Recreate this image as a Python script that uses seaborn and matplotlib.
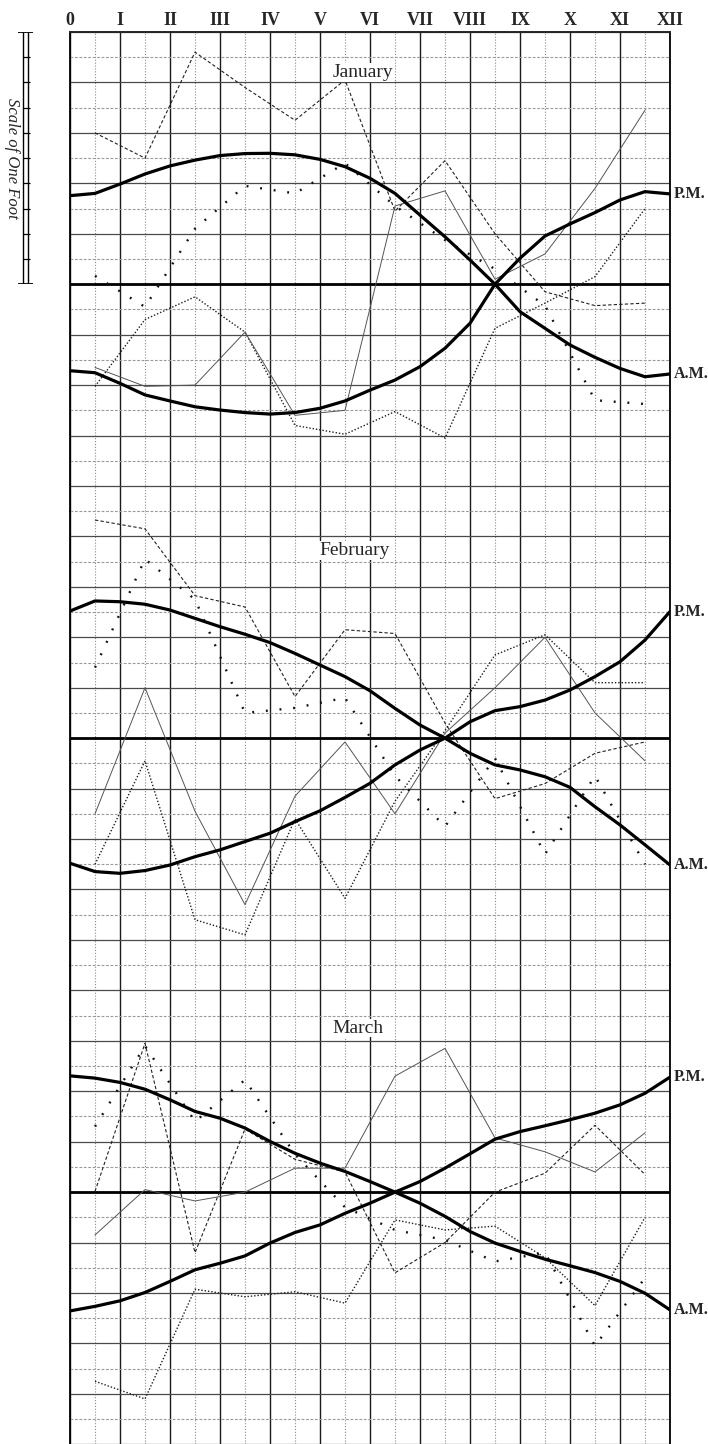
import numpy as np
import pandas as pd
import matplotlib
matplotlib.use("Agg")
import matplotlib.pyplot as plt
import seaborn as sns

# Hour labels along the top
hour_labels = ["0", "I", "II", "III", "IV", "V", "VI", "VII", "VIII", "IX", "X", "XI", "XII"]

# Smooth curves are read every half hour, observations at the half hours
curve_hours = [0, 0.5, 1, 1.5, 2, 2.5, 3, 3.5, 4, 4.5, 5, 5.5, 6,
               6.5, 7, 7.5, 8, 8.5, 9, 9.5, 10, 10.5, 11, 11.5, 12]
obs_hours = [0.5, 1.5, 2.5, 3.5, 4.5, 5.5, 6.5, 7.5, 8.5, 9.5, 10.5, 11.5]

# January (tenths of a foot above / below the mean line)
jan_am = [3.51, 3.6, 3.97, 4.37, 4.69, 4.92, 5.1, 5.18, 5.19, 5.13, 4.95, 4.66, 4.2,
          3.6, 2.74, 1.88, 0.96, 0.0, -1.09, -1.75, -2.41, -2.9, -3.34, -3.67, -3.56]
jan_pm = [-3.43, -3.51, -3.93, -4.39, -4.63, -4.86, -4.99, -5.09, -5.15, -5.09, -4.92, -4.63, -4.2,
          -3.8, -3.27, -2.54, -1.55, 0.0, 1.03, 1.91, 2.39, 2.84, 3.34, 3.67, 3.58]
jan_dash = [6.0, 5.0, 9.2, 7.8, 6.5, 8.1, 2.9, 4.9, 2.0, -0.3, -0.85, -0.75]
jan_fine = [-4.05, -1.4, -0.5, -1.9, -5.6, -5.95, -5.05, -6.1, -1.75, -0.75, 0.3, 3.0]
jan_thin = [-3.3, -4.05, -4.0, -1.9, -5.2, -5.0, 3.1, 3.7, 0.2, 1.2, 3.8, 6.9]
jan_loose = [0.33, -0.9, 2.2, 3.9, 3.6, 4.8, 3.1, 1.75, 0.6, -0.85, -4.6, -4.75]

# February
feb_am = [5.04, 5.44, 5.41, 5.31, 5.08, 4.75, 4.42, 4.12, 3.79, 3.36, 2.9, 2.44, 1.88,
          1.18, 0.52, 0.0, -0.6, -1.06, -1.26, -1.53, -1.95, -2.72, -3.44, -4.23, -5.03]
feb_pm = [-4.96, -5.29, -5.36, -5.25, -5.03, -4.7, -4.43, -4.1, -3.77, -3.31, -2.88, -2.35, -1.79,
          -1.06, -0.47, 0.0, 0.65, 1.09, 1.25, 1.51, 1.91, 2.44, 3.03, 3.89, 5.02]
feb_dash = [8.65, 8.3, 5.65, 5.2, 1.65, 4.3, 4.15, 0.6, -2.4, -1.8, -0.6, -0.15]
feb_fine = [-5.0, -0.9, -7.2, -7.8, -3.2, -6.35, -2.5, 0.3, 3.3, 4.1, 2.2, 2.2]
feb_thin = [-3.0, 2.0, -2.9, -6.6, -2.3, -0.15, -3.0, 0.2, 2.0, 4.0, 1.0, -0.9]
feb_loose = [2.8, 7.1, 5.5, 1.0, 1.2, 1.6, -1.5, -3.5, -0.8, -4.6, -1.5, -5.0]

# March
mar_am = [4.61, 4.52, 4.35, 4.08, 3.66, 3.2, 2.93, 2.54, 2.01, 1.54, 1.15, 0.82, 0.42,
          0.0, -0.44, -0.96, -1.56, -2.02, -2.35, -2.66, -2.92, -3.19, -3.54, -4.01, -4.67]
mar_pm = [-4.71, -4.53, -4.31, -3.98, -3.54, -3.08, -2.82, -2.53, -2.02, -1.6, -1.3, -0.84, -0.44,
          0.0, 0.42, 0.95, 1.52, 2.1, 2.4, 2.63, 2.87, 3.13, 3.46, 3.92, 4.56]
mar_dash = [0.03, 5.9, -2.4, 2.5, 1.3, 0.8, -3.2, -2.0, 0.0, 0.75, 2.65, 0.7]
mar_fine = [-7.5, -8.2, -3.85, -4.15, -3.95, -4.4, -1.1, -1.5, -1.35, -2.6, -4.5, -1.0]
mar_thin = [-1.7, 0.1, -0.35, 0.0, 0.95, 0.95, 4.6, 5.7, 2.15, 1.6, 0.8, 2.35]
mar_loose = [2.6, 5.8, 2.8, 4.45, 1.5, -0.6, -1.5, -1.9, -2.75, -2.4, -6.1, -3.4]

month_names = ["January", "February", "March"]

SERIF = ["Liberation Serif", "DejaVu Serif"]

W, H = 708, 1444
TOP = 32.0          # pixel row of the top border
ROW = 25.22         # pixels per tenth of a foot
LEFT, RIGHT = 70.0, 670.0


def frac_y(px):
    return 1 - px / H


def draw_month(fig, row_top, row_bot, zero_row, name, am, pm, dash, fine, thin, loose,
               title_pos, first=False):
    y_top_px = TOP + row_top * ROW
    y_bot_px = TOP + row_bot * ROW
    ax = fig.add_axes([LEFT / W, frac_y(y_bot_px), (RIGHT - LEFT) / W, (y_bot_px - y_top_px) / H])
    hi = zero_row - row_top
    lo = zero_row - row_bot
    ax.set_xlim(0, 12)
    ax.set_ylim(lo, hi)

    # grid: solid at hours / even tenths, dotted in between
    ax.set_xticks(np.arange(0, 13, 1))
    ax.set_xticks(np.arange(0.5, 12, 1), minor=True)
    ax.set_yticks([v for v in range(lo, hi + 1) if v % 2 == 0])
    ax.set_yticks([v for v in range(lo, hi + 1) if v % 2 != 0], minor=True)
    ax.grid(which="major", axis="x", color="#1a1a1a", lw=1.0)
    ax.grid(which="minor", axis="x", color="#8a8a8a", lw=0.8, ls=(0, (1, 1.6)))
    ax.grid(which="major", axis="y", color="#4a4a4a", lw=0.9)
    ax.grid(which="minor", axis="y", color="#9a9a9a", lw=0.8, ls=(0, (2.5, 1.5)))
    ax.set_axisbelow(True)
    ax.tick_params(which="both", length=0, labelbottom=False, labelleft=False)

    for side in ["left", "right"]:
        ax.spines[side].set_color("black")
        ax.spines[side].set_linewidth(1.3)
    ax.spines["bottom"].set_visible(False)
    ax.spines["top"].set_visible(first)
    ax.spines["top"].set_linewidth(1.4)

    if first:
        ax.xaxis.set_ticks_position("top")
        ax.set_xticklabels(hour_labels, fontsize=13, family=SERIF, fontweight="bold")
        ax.tick_params(which="major", labeltop=True, pad=2)

    ax.axhline(0, color="black", lw=2.0, zorder=3)

    obs = pd.DataFrame({"hour": obs_hours, "dash": dash, "fine": fine, "thin": thin, "loose": loose})
    sns.lineplot(data=obs, x="hour", y="dash", ax=ax, color="#222222", lw=0.8,
                 ls=(0, (3, 2)), estimator=None, sort=False, zorder=4)
    sns.lineplot(data=obs, x="hour", y="fine", ax=ax, color="#1e1e1e", lw=1.0,
                 ls=(0, (1, 1.4)), estimator=None, sort=False, zorder=4)
    sns.lineplot(data=obs, x="hour", y="thin", ax=ax, color="#555555", lw=0.7,
                 estimator=None, sort=False, zorder=4)
    sns.lineplot(data=obs, x="hour", y="loose", ax=ax, color="#111111", lw=1.7,
                 ls=(0, (0.8, 5)), estimator=None, sort=False, zorder=4)

    curves = pd.DataFrame({"hour": curve_hours, "am": am, "pm": pm})
    sns.lineplot(data=curves, x="hour", y="am", ax=ax, color="black", lw=2.3,
                 estimator=None, sort=False, zorder=5)
    sns.lineplot(data=curves, x="hour", y="pm", ax=ax, color="black", lw=2.3,
                 estimator=None, sort=False, zorder=5)

    ax.text(12.08, pm[-1], "P.M.", fontsize=11.5, family=SERIF, fontweight="bold",
            va="center", ha="left", clip_on=False)
    ax.text(12.08, am[-1], "A.M.", fontsize=11.5, family=SERIF, fontweight="bold",
            va="center", ha="left", clip_on=False)
    ax.text(title_pos[0], title_pos[1], name, fontsize=14, family=SERIF,
            ha="center", va="center", zorder=6,
            bbox=dict(facecolor="white", edgecolor="none", pad=0.5))
    ax.set_xlabel("")
    ax.set_ylabel("")
    return ax


sns.set_style("white")
plt.rcParams["font.family"] = SERIF

fig = plt.figure(figsize=(W / 100, H / 100), dpi=100)
fig.patch.set_facecolor("white")

draw_month(fig, 0, 19, 10, month_names[0], jan_am, jan_pm, jan_dash, jan_fine, jan_thin,
           jan_loose, (5.85, 8.4), first=True)
draw_month(fig, 19, 37, 28, month_names[1], feb_am, feb_pm, feb_dash, feb_fine, feb_thin,
           feb_loose, (5.7, 7.45))
draw_month(fig, 37, 56, 46, month_names[2], mar_am, mar_pm, mar_dash, mar_fine, mar_thin,
           mar_loose, (5.75, 6.5))

# Scale of one foot, drawn beside January (one foot = ten divisions)
rax = fig.add_axes([0, frac_y(TOP + 10 * ROW), LEFT / W, 10 * ROW / H])
rax.set_xlim(0, LEFT)
rax.set_ylim(0, 10)
rax.axis("off")
rax.vlines([23, 28], 0, 10, color="black", lw=1.0)
rax.hlines(np.arange(1, 10), 23, 30, color="black", lw=0.9)
rax.hlines([0, 10], 18, 33, color="black", lw=1.3)
rax.text(12, 5, "Scale of One Foot", rotation=-90, fontsize=12, style="italic",
         family=SERIF, ha="center", va="center")

fig.savefig("out.png", dpi=100, facecolor="white")
